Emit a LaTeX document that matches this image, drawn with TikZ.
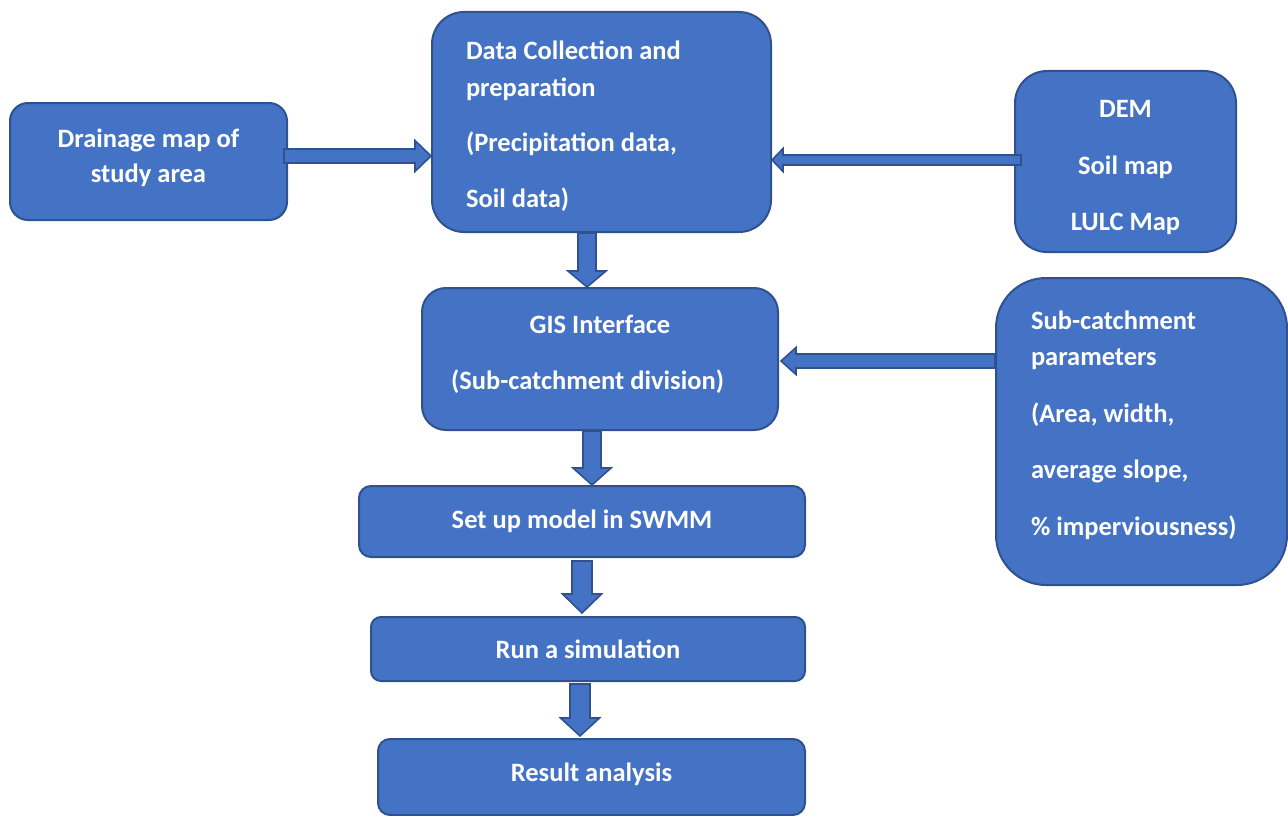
\documentclass[tikz,border=0pt]{standalone}
\usepackage{fontspec}
\setmainfont{Carlito}
\usetikzlibrary{calc}
\definecolor{boxblue}{HTML}{4472C4}
\definecolor{edgeblue}{HTML}{2F528F}
\tikzset{
  box/.style={draw=edgeblue, fill=boxblue, line width=2pt, text=white,
    font=\bfseries\fontsize{26.5}{36.5}\selectfont, inner sep=0pt},
  boxwh/.style n args={3}{minimum width=#1pt, minimum height=#2pt, rounded corners=#3pt},
  tup/.style={execute at end node={\par\vspace*{#1pt}}},
  barrow/.style={draw=edgeblue, fill=boxblue, line width=1.6pt, line join=miter}
}
% horizontal block arrow: start, tip, shaft half, head half, signed head length
\newcommand{\harr}[5]{\draw[barrow] let \p1=(#1), \p2=(#2) in
  (\x1,{\y2+#3pt}) -- ({\x2-(#5pt)},{\y2+#3pt}) -- ({\x2-(#5pt)},{\y2+#4pt}) -- (\x2,\y2)
  -- ({\x2-(#5pt)},{\y2-#4pt}) -- ({\x2-(#5pt)},{\y2-#3pt}) -- (\x1,{\y2-#3pt}) -- cycle;}
% downward block arrow: start, tip, shaft half, head half, head length
\newcommand{\varr}[5]{\draw[barrow] let \p1=(#1), \p2=(#2) in
  ({\x2+#3pt},\y1) -- ({\x2+#3pt},{\y2+#5pt}) -- ({\x2+#4pt},{\y2+#5pt}) -- (\x2,\y2)
  -- ({\x2-#4pt},{\y2+#5pt}) -- ({\x2-#3pt},{\y2+#5pt}) -- ({\x2-#3pt},\y1) -- cycle;}
\begin{document}
\begin{tikzpicture}[x=1pt,y=-1pt]
\useasboundingbox (0,0) rectangle (1288,816);

\node[box, boxwh={277}{117}{18}, text width=260pt, align=flush center, tup=8] (drain) at (148.5,161.5)
  {Drainage map of\\[-1.5pt]study area};
\node[box, boxwh={339}{220}{32}, text width=271pt, align=flush left, tup=-8] (data) at (601.5,122)
  {Data Collection and\\preparation\\[19pt](Precipitation data,\\[19pt]Soil data)};
\node[box, boxwh={221}{181}{32}, text width=200pt, align=flush center, tup=-12] (dem) at (1125.5,161.5)
  {DEM\\[20pt]Soil map\\[20pt]LULC Map};
\node[box, boxwh={356}{142}{24}, text width=330pt, align=flush center, tup=10] (gis) at (600,359)
  {GIS Interface\hspace*{25pt}\\[19.5pt](Sub-catchment division)\hspace*{25pt}};
\node[box, boxwh={291}{307}{50}, text width=221pt, align=flush left, tup=13] (sub) at (1141.5,431.5)
  {Sub-catchment\\parameters\\[20pt](Area, width,\\[20pt]average slope,\\[20pt]\% imperviousness)};
\node[box, boxwh={446}{71}{12}] (setup) at (582,521.5) {Set up model in SWMM};
\node[box, boxwh={434}{64}{10}] (run) at (588,649) {Run a simulation};
\node[box, boxwh={427}{76}{12}, text width=400pt, align=flush center, tup=6] (result) at (591.5,777) {Result analysis};

\harr{$(drain.east)+(-4,0)$}{$(data.west)+(0,34)$}{7}{15.5}{16}
\harr{$(dem.west)+(7,0)$}{$(data.east)+(0,38)$}{5}{11.5}{-11}
\harr{sub.west}{$(gis.east)+(2,2)$}{7}{13.5}{-15}
\varr{data.south}{$(gis.north)+(-13,0)$}{9}{19}{16}
\varr{gis.south}{$(setup.north)+(10,0)$}{9}{19}{17}
\varr{$(setup.south)+(0,3)$}{$(run.north)+(-6,-3)$}{10}{19.5}{19}
\varr{$(run.south)+(0,2)$}{$(result.north)+(-11.5,-2)$}{10}{19.5}{18}
\end{tikzpicture}
\end{document}
